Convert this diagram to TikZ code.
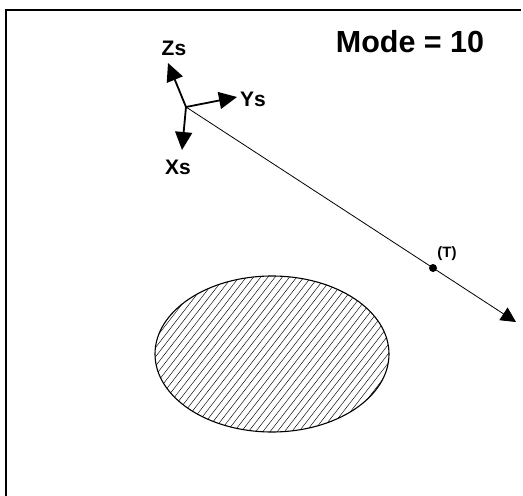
\documentclass[tikz,border=0pt]{standalone}
\usepackage{fontspec}
\setmainfont{Liberation Sans}
\usetikzlibrary{arrows.meta}
\begin{document}
\begin{tikzpicture}[x=1pt,y=-1pt,
  frameline/.style={line width=2pt},
  axisarrow/.style={line width=1.8pt,-{Triangle[length=18pt,width=17pt]}},
  mainline/.style={line width=0.8pt,-{Triangle[length=15pt,width=15pt]}},
  axislabel/.style={font=\bfseries\fontsize{21}{21}\selectfont,inner sep=0pt},
  hatch/.style={line width=0.45pt},
  region/.style={line width=1.1pt}]
\useasboundingbox (0,0) rectangle (523,496);
% frame
\coordinate (FB) at (6,496);
\coordinate (FC) at (6,10);
\coordinate (FR) at (521,10);
\draw[frameline] (FB) -- (FC) -- (FR);
% title
\node[font=\bfseries\fontsize{30.5}{30.5}\selectfont,inner sep=0pt] (mode) at (410,42) {Mode = 10};
% hatched ellipse
\coordinate (E) at (272,354);
\begin{scope}
  \clip (E) ellipse [x radius=117, y radius=78];
  \foreach \i in {0,...,60} \draw[hatch] (\i*7.2-10,440) -- ++(140,-180);
\end{scope}
\draw[region] (E) ellipse [x radius=117, y radius=78];
% sensor frame
\coordinate (O) at (186,107);
\coordinate (Zt) at (168,63);
\coordinate (Yt) at (237,97);
\coordinate (Xt) at (182,150);
\draw[axisarrow] (O) -- (Zt);
\draw[axisarrow] (O) -- (Yt);
\draw[axisarrow] (O) -- (Xt);
\node[axislabel] (zs) at (174,48) {Zs};
\node[axislabel] (ys) at (253,99) {Ys};
\node[axislabel] (xs) at (178,167) {Xs};
% line of sight
\coordinate (A) at (516,322);
\draw[mainline] (O) -- (A);
\node[circle,fill=black,inner sep=0pt,minimum size=8pt] (T) at (433,268) {};
\node[font=\bfseries\fontsize{15}{15}\selectfont,inner sep=0pt] (tl) at (447,254) {(T)};
\end{tikzpicture}
\end{document}
